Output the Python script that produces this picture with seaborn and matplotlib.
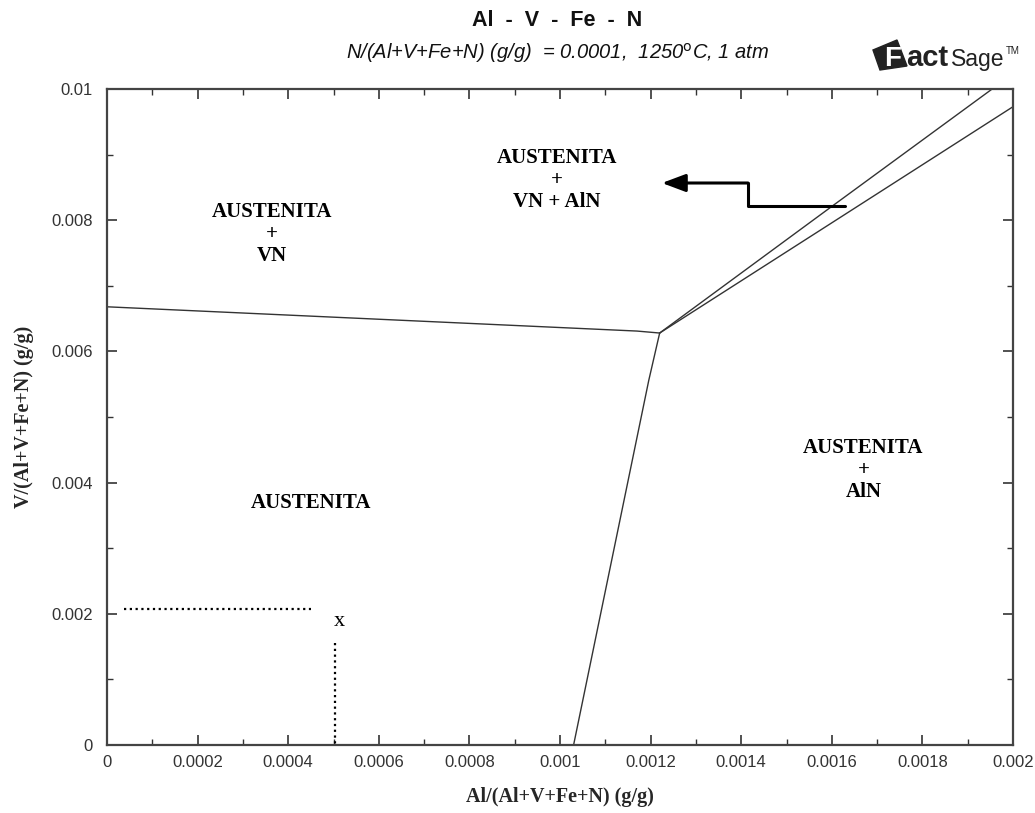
import matplotlib
matplotlib.use("Agg")
import matplotlib.pyplot as plt
import seaborn as sns
import pandas as pd
import numpy as np
from matplotlib.patches import Polygon

sns.set_theme(style="white")
plt.rcParams['font.family'] = ['Liberation Sans', 'DejaVu Sans']

# ---- data ----
left_x = [0.0, 0.00117, 0.00122]
left_y = [0.00668, 0.00631, 0.00628]
low_x = [0.00122, 0.001196, 0.00103]
low_y = [0.00628, 0.00556, 0.0]
up1_x = [0.00122, 0.00160, 0.001954]
up1_y = [0.00628, 0.00821, 0.0100]
up2_x = [0.00122, 0.00160, 0.0020]
up2_y = [0.00628, 0.00796, 0.00973]

arrow_x = [0.001629, 0.001415, 0.001415, 0.001225]
arrow_y = [0.008216, 0.008216, 0.008567, 0.008567]

dot_h_x = [0.0000375, 0.00045]
dot_h_y = [0.00207, 0.00207]
dot_v_x = [0.000503, 0.000503]
dot_v_y = [0.00155, 0.0]

labels = ["AUSTENITA\n+\nVN", "AUSTENITA\n+\nVN + AlN", "AUSTENITA\n+\nAlN", "AUSTENITA", "x"]
label_x = [0.000364, 0.000993, 0.00167, 0.00045, 0.000514]
label_y = [0.00779, 0.00861, 0.00419, 0.00369, 0.00188]

xticks = [0, 0.0002, 0.0004, 0.0006, 0.0008, 0.001, 0.0012, 0.0014, 0.0016, 0.0018, 0.002]
xtick_labels = ["0", "0.0002", "0.0004", "0.0006", "0.0008", "0.001", "0.0012", "0.0014", "0.0016", "0.0018", "0.002"]
yticks = [0, 0.002, 0.004, 0.006, 0.008, 0.01]
ytick_labels = ["0", "0.002", "0.004", "0.006", "0.008", "0.01"]

W, H = 1035, 813
fig = plt.figure(figsize=(W/100, H/100), dpi=100)
ax = fig.add_axes([107/W, 1-745/H, (1013-107)/W, (745-89)/H])

lc = "#333333"
for xs, ys in [(left_x, left_y), (low_x, low_y), (up1_x, up1_y), (up2_x, up2_y)]:
    df = pd.DataFrame({"x": xs, "y": ys})
    sns.lineplot(data=df, x="x", y="y", sort=False, estimator=None, ax=ax, color=lc, lw=1.0)

dfa = pd.DataFrame({"x": arrow_x[:-1], "y": arrow_y[:-1]})
sns.lineplot(data=dfa, x="x", y="y", sort=False, estimator=None, ax=ax, color="black", lw=2.2)
ax.annotate("", xy=(arrow_x[-1], arrow_y[-1]), xytext=(arrow_x[-2], arrow_y[-2]),
            arrowprops=dict(arrowstyle="-|>,head_length=1.2,head_width=0.45", color="black", lw=2.2, shrinkA=0, shrinkB=0))

for xs, ys in [(dot_h_x, dot_h_y), (dot_v_x, dot_v_y)]:
    df = pd.DataFrame({"x": xs, "y": ys})
    sns.lineplot(data=df, x="x", y="y", sort=False, estimator=None, ax=ax, color="black", lw=1.6, linestyle=(0, (1, 1.6)))

for t, lx, ly in zip(labels, label_x, label_y):
    if t == "x":
        ax.text(lx, ly, t, ha="center", va="center", family=["Liberation Serif"], fontsize=16, color="black")
    else:
        ax.text(lx, ly, t, ha="center", va="center", family=["Liberation Serif"], fontsize=15,
                fontweight="bold", linespacing=1.15, color="black")

ax.set_xlim(0, 0.002)
ax.set_ylim(0, 0.01)
ax.set_xticks(xticks)
ax.set_xticklabels(xtick_labels)
ax.set_yticks(yticks)
ax.set_yticklabels(ytick_labels)
ax.set_xticks(np.arange(0, 0.00201, 0.0001), minor=True)
ax.set_yticks(np.arange(0, 0.01001, 0.001), minor=True)
ax.tick_params(which="both", direction="in", top=True, right=True, bottom=True, left=True, color="#333333")
ax.tick_params(which="major", length=7, width=1.2, labelsize=12, labelcolor="#333333")
ax.tick_params(axis="x", which="major", pad=7)
ax.tick_params(axis="y", which="major", pad=10)
ax.tick_params(which="minor", length=4, width=1.0)
for s in ax.spines.values():
    s.set_color("#444444")
    s.set_linewidth(1.6)
ax.set_xlabel("Al/(Al+V+Fe+N) (g/g)", family=["Liberation Serif"], fontweight="bold", fontsize=14.5)
ax.set_ylabel("V/(Al+V+Fe+N) (g/g)", family=["Liberation Serif"], fontweight="bold", fontsize=14.5)
ax.xaxis.set_label_coords(0.5, (745-787)/656)
ax.yaxis.set_label_coords((34-107)/906, 0.5)

fig.text(557/W, 1-20/H, "Al  -  V  -  Fe  -  N", ha="center", va="center", fontsize=15.5, fontweight="bold", color="#111111")
fig.text(558/W, 1-53/H, "N/(Al+V+Fe+N) (g/g)  = 0.0001,  1250$^{\\mathrm{o}}$C, 1 atm", ha="center", va="center",
         fontsize=14.5, fontstyle="italic", color="#111111")

# FactSage logo
pts = [(873, 50), (897, 40), (907, 66), (880, 70)]
poly = Polygon([[x/W, 1-y/H] for x, y in pts], closed=True, transform=fig.transFigure, color="#222222")
fig.patches.append(poly)
fig.text(893/W, 1-66/H, "F", ha="center", va="baseline", fontsize=20, fontweight="bold", color="white")
fig.text(906/W, 1-66/H, "act", ha="left", va="baseline", fontsize=21, fontweight="bold", color="#222222")
fig.text(951/W, 1-66/H, "Sage", ha="left", va="baseline", fontsize=16.5, color="#222222")
fig.text(1006/W, 1-51/H, "TM", ha="left", va="center", fontsize=7, color="#222222")

fig.savefig("out.png", dpi=100)
